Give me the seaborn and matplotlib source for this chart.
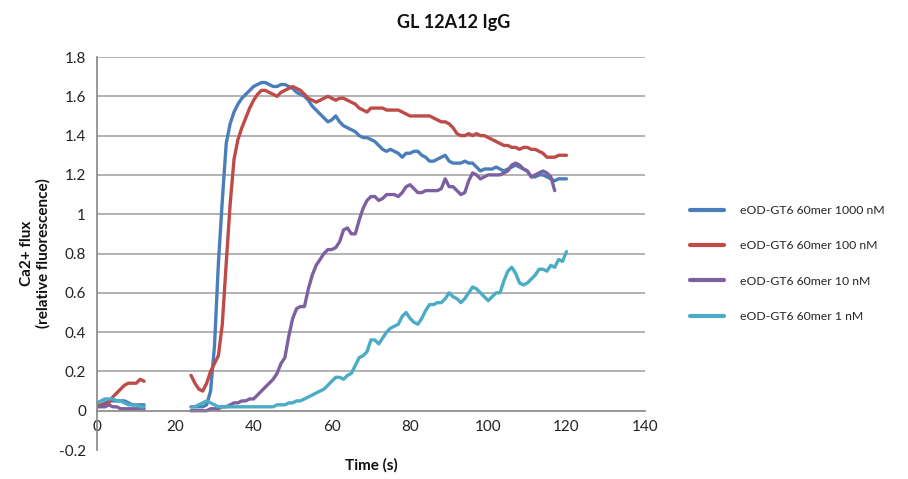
import numpy as np
import pandas as pd
import matplotlib
matplotlib.use("Agg")
import matplotlib.pyplot as plt
import seaborn as sns

# ---------------- data ----------------
time_seg1 = list(range(0, 13))
time_seg2 = list(range(24, 121))

series_names = ["eOD-GT6 60mer 1000 nM", "eOD-GT6 60mer 100 nM",
                "eOD-GT6 60mer 10 nM", "eOD-GT6 60mer 1 nM"]

blue_seg1 = [0.02, 0.03, 0.04, 0.05, 0.05, 0.05, 0.05, 0.05, 0.04, 0.03, 0.03, 0.03, 0.03]
red_seg1 = [0.02, 0.03, 0.03, 0.04, 0.07, 0.09, 0.11, 0.13, 0.14, 0.14, 0.14, 0.16, 0.15]
purple_seg1 = [0.02, 0.02, 0.02, 0.03, 0.02, 0.02, 0.01, 0.01, 0.01, 0.01, 0.01, 0.01, 0.01]
cyan_seg1 = [0.04, 0.05, 0.06, 0.06, 0.06, 0.05, 0.05, 0.04, 0.03, 0.03, 0.03, 0.02, 0.02]

blue_seg2 = [0.02, 0.02, 0.02, 0.02, 0.03, 0.10, 0.33, 0.75, 1.07, 1.36,   # 24-33
             1.46, 1.52, 1.56, 1.59, 1.61, 1.63, 1.65, 1.66, 1.67, 1.67,   # 34-43
             1.66, 1.65, 1.65, 1.66, 1.66, 1.65, 1.64, 1.62, 1.61, 1.60,   # 44-53
             1.58, 1.55, 1.53, 1.51, 1.49, 1.47, 1.48, 1.50, 1.47, 1.45,   # 54-63
             1.44, 1.43, 1.42, 1.40, 1.39, 1.39, 1.38, 1.37, 1.35, 1.33,   # 64-73
             1.32, 1.33, 1.32, 1.31, 1.29, 1.31, 1.31, 1.32, 1.32, 1.30,   # 74-83
             1.29, 1.27, 1.27, 1.28, 1.29, 1.30, 1.27, 1.26, 1.26, 1.26,   # 84-93
             1.27, 1.26, 1.26, 1.24, 1.22, 1.23, 1.23, 1.23, 1.24, 1.23,   # 94-103
             1.22, 1.23, 1.24, 1.25, 1.24, 1.23, 1.22, 1.19, 1.19, 1.20,   # 104-113
             1.20, 1.19, 1.18, 1.17, 1.18, 1.18, 1.18]                     # 114-120

red_seg2 = [0.18, 0.14, 0.11, 0.10, 0.14, 0.20, 0.24, 0.28, 0.44, 0.75,
            1.05, 1.28, 1.38, 1.44, 1.49, 1.54, 1.58, 1.61, 1.63, 1.63,
            1.62, 1.61, 1.60, 1.62, 1.63, 1.64, 1.65, 1.64, 1.63, 1.61,
            1.59, 1.58, 1.57, 1.58, 1.59, 1.60, 1.59, 1.58, 1.59, 1.59,
            1.58, 1.57, 1.56, 1.54, 1.53, 1.52, 1.54, 1.54, 1.54, 1.54,
            1.53, 1.53, 1.53, 1.53, 1.52, 1.51, 1.50, 1.50, 1.50, 1.50,
            1.50, 1.50, 1.49, 1.48, 1.47, 1.47, 1.46, 1.44, 1.41, 1.40,
            1.40, 1.41, 1.40, 1.41, 1.40, 1.40, 1.39, 1.38, 1.37, 1.36,
            1.35, 1.35, 1.34, 1.34, 1.33, 1.34, 1.34, 1.33, 1.33, 1.32,
            1.31, 1.29, 1.29, 1.29, 1.30, 1.30, 1.30]

purple_seg2 = [0.00, 0.00, 0.00, 0.00, 0.00, 0.01, 0.01, 0.01, 0.02, 0.02,
               0.03, 0.04, 0.04, 0.05, 0.05, 0.06, 0.06, 0.08, 0.10, 0.12,
               0.14, 0.16, 0.19, 0.24, 0.27, 0.38, 0.47, 0.52, 0.53, 0.53,
               0.62, 0.69, 0.74, 0.77, 0.80, 0.82, 0.82, 0.83, 0.86, 0.92,
               0.93, 0.90, 0.90, 0.97, 1.03, 1.07, 1.09, 1.09, 1.07, 1.08,
               1.10, 1.10, 1.10, 1.09, 1.11, 1.14, 1.15, 1.13, 1.11, 1.11,
               1.12, 1.12, 1.12, 1.12, 1.13, 1.18, 1.14, 1.14, 1.12, 1.10,
               1.11, 1.17, 1.21, 1.20, 1.18, 1.19, 1.20, 1.20, 1.20, 1.20,
               1.21, 1.22, 1.25, 1.26, 1.25, 1.23, 1.22, 1.19, 1.20, 1.21,
               1.22, 1.21, 1.19, 1.12, np.nan, np.nan, np.nan]

cyan_seg2 = [0.02, 0.02, 0.03, 0.04, 0.05, 0.04, 0.03, 0.02, 0.02, 0.02,
             0.02, 0.02, 0.02, 0.02, 0.02, 0.02, 0.02, 0.02, 0.02, 0.02,
             0.02, 0.02, 0.03, 0.03, 0.03, 0.04, 0.04, 0.05, 0.05, 0.06,
             0.07, 0.08, 0.09, 0.10, 0.11, 0.13, 0.15, 0.17, 0.17, 0.16,
             0.18, 0.19, 0.23, 0.27, 0.28, 0.30, 0.36, 0.36, 0.34, 0.37,
             0.40, 0.42, 0.43, 0.44, 0.48, 0.50, 0.47, 0.45, 0.44, 0.47,
             0.51, 0.54, 0.54, 0.55, 0.55, 0.57, 0.60, 0.58, 0.57, 0.55,
             0.57, 0.60, 0.63, 0.62, 0.60, 0.58, 0.56, 0.58, 0.60, 0.60,
             0.66, 0.71, 0.73, 0.70, 0.65, 0.64, 0.65, 0.67, 0.69, 0.72,
             0.72, 0.71, 0.74, 0.73, 0.77, 0.76, 0.81]

colors = ["#4A7EBB", "#BE4B48", "#7D60A0", "#4BACC6"]
x_ticks = [0, 20, 40, 60, 80, 100, 120, 140]
y_ticks = [-0.2, 0, 0.2, 0.4, 0.6, 0.8, 1.0, 1.2, 1.4, 1.6, 1.8]

# ---------------- long table ----------------
seg1_vals = [blue_seg1, red_seg1, purple_seg1, cyan_seg1]
seg2_vals = [blue_seg2, red_seg2, purple_seg2, cyan_seg2]
rows = []
for name, v1, v2 in zip(series_names, seg1_vals, seg2_vals):
    for t, v in zip(time_seg1, v1):
        rows.append((name, "a", t, v))
    for t, v in zip(time_seg2, v2):
        rows.append((name, "b", t, v))
df = pd.DataFrame(rows, columns=["series", "segment", "time", "flux"]).dropna()
df["unit"] = df["series"] + "_" + df["segment"]

# ---------------- plot ----------------
sns.set_theme(style="white")
plt.rcParams["font.family"] = ["Lato", "DejaVu Sans"]

fig = plt.figure(figsize=(9.08, 4.79), dpi=100)
ax = fig.add_axes([0.107, 0.0605, 0.603, 0.8205])

sns.lineplot(data=df, x="time", y="flux", hue="series", units="unit",
             estimator=None, palette=dict(zip(series_names, colors)),
             hue_order=series_names, linewidth=2.4, ax=ax, sort=True)

ax.set_xlim(0, 140)
ax.set_ylim(-0.2, 1.8)
ax.set_xticks(x_ticks)
ax.set_yticks(y_ticks)
ax.set_yticklabels([f"{v:g}" for v in y_ticks])
ax.set_xticklabels([str(v) for v in x_ticks])

for y in y_ticks:
    if y > 0:
        ax.axhline(y, color="#A6A6A6", linewidth=1.2, zorder=0)

grey = "#868686"
ax.spines["top"].set_visible(False)
ax.spines["right"].set_visible(False)
ax.spines["bottom"].set_position(("data", 0))
ax.spines["bottom"].set_color(grey)
ax.spines["left"].set_color(grey)
ax.spines["bottom"].set_linewidth(1.2)
ax.spines["left"].set_linewidth(1.2)
ax.tick_params(axis="both", direction="out", length=5, width=1, color=grey,
               labelsize=11, labelcolor="#222222", pad=3)
ax.tick_params(axis="x", pad=2)

ax.set_xlabel("Time (s)", fontsize=11, fontweight="bold", color="#111111")
ax.xaxis.set_label_coords(0.5, -0.02)
ax.set_ylabel("Ca2+ flux\n(relative fluorescence)", fontsize=11,
              fontweight="bold", color="#111111", linespacing=1.2)
ax.yaxis.set_label_coords(-0.085, 0.5)

fig.text(0.5, 0.953, "GL 12A12 IgG", ha="center", va="center",
         fontsize=13, fontweight="bold", color="#111111")

leg = ax.legend(loc="center left", bbox_to_anchor=(0.748, 0.45),
                bbox_transform=fig.transFigure, frameon=False, fontsize=8.8,
                handlelength=2.8, handletextpad=1.3, labelspacing=2.0,
                title=None)
for line in leg.get_lines():
    line.set_linewidth(3)

fig.savefig("out.png", dpi=100)
